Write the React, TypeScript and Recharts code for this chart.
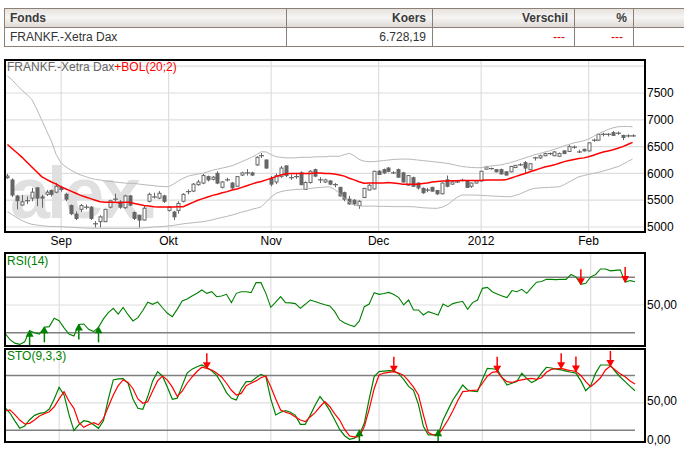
import React from "react";
import { ComposedChart, Bar, Line, XAxis, YAxis, CartesianGrid, ReferenceLine } from "recharts";

// daily candles, mid Aug 2011 .. mid Feb 2012
const opens = [
  5920, 5877, 5578, 5410, 5490, 5540, 5730, 5560, 5610, 5680,
  5650, 5740, 5610, 5400, 5240, 5330, 5370, 5370, 5060, 5100,
  5100, 5370, 5520, 5470, 5360, 5580, 5270, 5220, 5130, 5480,
  5560, 5540, 5580, 5310, 5280, 5310, 5480, 5660, 5670, 5790,
  5820, 5940, 5890, 6000, 5740, 5880, 5820, 5760, 5970, 6010,
  6010, 6160, 6330, 6250, 5900, 5840, 5940, 6140, 5920, 5940,
  6010, 5700, 5830, 6070, 5880, 5840, 5860, 5790, 5740, 5640,
  5520, 5500, 5400, 5550, 5690, 5710, 6040, 6070, 6100, 6010,
  6070, 6010, 5780, 5920, 5820, 5720, 5690, 5740, 5680, 5620,
  5880, 5800, 5840, 5870, 5850, 5760, 5820, 5860, 6080, 6090,
  6070, 6070, 6030, 6030, 6110, 6160, 6200, 6070, 6290, 6290,
  6330, 6370, 6330, 6320, 6420, 6410, 6490, 6400, 6450, 6420,
  6620, 6620, 6730, 6730, 6760, 6750, 6710, 6700, 6700,
];
const highs = [
  5990, 5908, 5600, 5600, 5570, 5730, 5740, 5600, 5690, 5700,
  5820, 5770, 5640, 5420, 5290, 5430, 5420, 5390, 5110, 5220,
  5340, 5510, 5620, 5500, 5600, 5600, 5290, 5230, 5400, 5640,
  5640, 5670, 5600, 5390, 5300, 5480, 5630, 5700, 5820, 5880,
  5990, 5960, 5950, 6040, 5860, 5920, 5840, 5950, 6030, 6080,
  6030, 6320, 6380, 6260, 5950, 6000, 6140, 6150, 5980, 6010,
  6040, 5850, 6060, 6090, 5930, 5900, 5870, 5820, 5750, 5660,
  5580, 5520, 5500, 5730, 5800, 6050, 6060, 6090, 6120, 6040,
  6090, 6030, 5970, 5940, 5830, 5740, 5730, 5750, 5690, 5830,
  5960, 5860, 5870, 5900, 5860, 5830, 5870, 6050, 6140, 6110,
  6080, 6090, 6040, 6140, 6160, 6190, 6230, 6190, 6310, 6350,
  6390, 6390, 6420, 6390, 6430, 6530, 6520, 6440, 6460, 6580,
  6650, 6740, 6760, 6750, 6790, 6780, 6720, 6730, 6730,
];
const lows = [
  5900, 5560, 5330, 5400, 5430, 5480, 5390, 5360, 5580, 5570,
  5630, 5660, 5480, 5220, 5130, 5280, 5330, 5130, 4990, 4990,
  5090, 5350, 5480, 5340, 5340, 5390, 5130, 4990, 5120, 5460,
  5530, 5520, 5450, 5290, 5130, 5250, 5460, 5610, 5650, 5770,
  5800, 5850, 5870, 5800, 5720, 5850, 5710, 5750, 5950, 5960,
  5950, 6140, 6290, 6090, 5760, 5800, 5920, 5930, 5880, 5900,
  5780, 5690, 5810, 5930, 5820, 5820, 5780, 5740, 5570, 5480,
  5420, 5400, 5340, 5540, 5680, 5700, 5970, 5990, 6020, 5990,
  5920, 5830, 5770, 5750, 5700, 5620, 5650, 5660, 5600, 5610,
  5740, 5790, 5820, 5850, 5730, 5730, 5810, 5850, 6070, 6070,
  6020, 5980, 5960, 6020, 6100, 6140, 6010, 6060, 6240, 6270,
  6320, 6340, 6320, 6310, 6360, 6400, 6460, 6380, 6410, 6410,
  6590, 6610, 6690, 6690, 6700, 6720, 6620, 6670, 6680,
];
const closes = [
  5950, 5597, 5491, 5470, 5500, 5650, 5540, 5540, 5650, 5610,
  5760, 5700, 5520, 5250, 5160, 5400, 5380, 5160, 5070, 5190,
  5330, 5490, 5530, 5370, 5580, 5410, 5160, 5130, 5350, 5610,
  5570, 5630, 5480, 5370, 5190, 5440, 5610, 5670, 5800, 5840,
  5960, 5880, 5930, 5820, 5840, 5880, 5730, 5940, 6010, 6010,
  5970, 6300, 6330, 6100, 5800, 5960, 6100, 5960, 5920, 5940,
  5790, 5830, 6040, 5950, 5880, 5880, 5800, 5790, 5580, 5520,
  5430, 5430, 5480, 5720, 5780, 6040, 5980, 6010, 6040, 6010,
  5930, 5840, 5960, 5760, 5730, 5640, 5690, 5670, 5620, 5820,
  5760, 5840, 5840, 5870, 5740, 5820, 5860, 6040, 6120, 6090,
  6030, 5990, 5970, 6130, 6150, 6160, 6100, 6180, 6290, 6330,
  6370, 6370, 6400, 6370, 6370, 6500, 6490, 6400, 6420, 6570,
  6620, 6730, 6730, 6730, 6710, 6750, 6670, 6700, 6700,
];

// Bollinger (20;2)
const bolMid = [
  6540, 6460, 6380, 6300, 6210, 6120, 6030, 5940, 5890, 5840,
  5800, 5750, 5710, 5670, 5630, 5590, 5560, 5530, 5500, 5470,
  5460, 5460, 5460, 5455, 5460, 5460, 5440, 5420, 5400, 5390,
  5380, 5375, 5375, 5375, 5375, 5378, 5380, 5420, 5460, 5500,
  5530, 5560, 5590, 5610, 5640, 5660, 5690, 5710, 5740, 5770,
  5800, 5830, 5850, 5880, 5910, 5940, 5970, 5995, 6000, 6000,
  6000, 6000, 6000, 6010, 6010, 6000, 6000, 5990, 5970, 5950,
  5910, 5880, 5845, 5815, 5820, 5820, 5820, 5820, 5830, 5820,
  5810, 5800, 5800, 5800, 5800, 5810, 5820, 5840, 5850, 5860,
  5860, 5865, 5865, 5870, 5870, 5870, 5870, 5870, 5875, 5875,
  5877, 5877, 5880, 5910, 5940, 5970, 6000, 6030, 6060, 6090,
  6120, 6140, 6160, 6190, 6220, 6240, 6260, 6280, 6290, 6310,
  6340, 6370, 6400, 6420, 6440, 6470, 6500, 6540, 6580,
];
const bolUp = [
  7820, 7740, 7640, 7550, 7470, 7380, 7200, 7000, 6800, 6600,
  6350, 6190, 6120, 6060, 6010, 5970, 5940, 5910, 5890, 5877,
  5860, 5850, 5840, 5830, 5820, 5815, 5815, 5800, 5790, 5780,
  5770, 5760, 5755, 5752, 5800, 5860, 5910, 5950, 5970, 5990,
  6000, 6030, 6060, 6080, 6100, 6120, 6144, 6180, 6220, 6260,
  6300, 6350, 6405, 6400, 6350, 6312, 6300, 6290, 6290, 6290,
  6300, 6300, 6300, 6310, 6310, 6310, 6320, 6320, 6320, 6350,
  6375, 6330, 6260, 6230, 6218, 6220, 6230, 6240, 6250, 6260,
  6265, 6268, 6268, 6260, 6250, 6240, 6230, 6220, 6210, 6200,
  6188, 6170, 6150, 6130, 6120, 6110, 6107, 6107, 6120, 6140,
  6150, 6157, 6180, 6200, 6230, 6260, 6290, 6320, 6350, 6370,
  6400, 6420, 6450, 6480, 6517, 6540, 6570, 6590, 6610, 6642,
  6690, 6740, 6780, 6820, 6850, 6871, 6875, 6875, 6871,
];
const bolLow = [
  5286, 5230, 5170, 5120, 5080, 5050, 5037, 5025, 5015, 5010,
  5008, 5006, 5000, 4995, 4990, 4985, 4980, 4978, 4976, 4976,
  4976, 4976, 4976, 4976, 4976, 4976, 4976, 4976, 4985, 4990,
  5000, 5005, 5010, 5019, 5030, 5045, 5060, 5070, 5080, 5090,
  5099, 5115, 5135, 5160, 5180, 5200, 5224, 5250, 5280, 5300,
  5330, 5350, 5379, 5470, 5560, 5629, 5660, 5680, 5690, 5700,
  5703, 5710, 5720, 5730, 5740, 5745, 5750, 5700, 5628, 5540,
  5460, 5410, 5392, 5390, 5390, 5390, 5385, 5385, 5385, 5380,
  5380, 5380, 5379, 5379, 5370, 5360, 5355, 5350, 5349, 5370,
  5410, 5480, 5550, 5597, 5597, 5597, 5595, 5590, 5585, 5580,
  5575, 5570, 5567, 5565, 5590, 5620, 5660, 5700, 5722, 5730,
  5735, 5740, 5745, 5752, 5790, 5840, 5890, 5938, 5960, 5980,
  6000, 6020, 6045, 6070, 6100, 6125, 6170, 6220, 6268,
];

const rsi = [
  29.6, 25, 22.5, 21.6, 23.5, 31.5, 30, 29, 33.9, 34.4,
  40.4, 38.7, 33.5, 29, 27.6, 36, 36.3, 32.5, 30.8, 33.9,
  40, 44.5, 47.6, 43.5, 48.3, 43, 38.5, 40.9, 46, 52,
  50.5, 52.2, 48, 44, 41.6, 47, 52.9, 54.3, 56.5, 58.5,
  60.8, 58.4, 59.6, 56, 56.5, 57.7, 51.7, 58.4, 59.6, 59.5,
  58.9, 66.1, 66.1, 58.4, 48.3, 52, 56, 51.7, 51.5, 51,
  47.6, 50.5, 53.6, 52.5, 51.2, 50.2, 49.3, 45.2, 39.2, 37,
  35.5, 34.4, 38.5, 48.8, 50.7, 58.9, 57.7, 58.3, 59.1, 57.5,
  55.3, 50, 53.6, 46.4, 46.4, 42.8, 45.2, 44, 42.8, 50.7,
  48.8, 51, 52, 52.5, 46.9, 51.7, 53.6, 62, 62.7, 59.6,
  58, 56.5, 55.3, 60.4, 59.6, 61.3, 58.4, 62.5, 66.4, 67,
  68.5, 68.5, 68.3, 68.6, 68.5, 72, 70.3, 64.9, 65.6, 70.3,
  72, 76, 76, 74.6, 75, 75.3, 66.5, 67.6, 66.8,
];

const stoK = [
  43.8, 37, 27, 17.5, 20.5, 28.5, 34, 36.6, 37.5, 42,
  55, 69.8, 60.1, 35, 14.5, 22, 27.2, 26, 22, 17.5,
  27, 55, 79.2, 80.5, 81, 75, 55, 43, 41.7, 58,
  78, 89.8, 84, 70, 54.5, 56, 72, 88, 93, 96,
  98.3, 95, 91, 85, 75, 63, 55.8, 53.7, 68, 77.1,
  77.1, 82, 86.4, 83.4, 55, 34.5, 38, 40, 38, 34,
  22.6, 22.6, 34, 47, 58, 50, 40, 28, 16, 8,
  3.4, 5, 9, 23.8, 55, 83.4, 89.8, 90.5, 91, 90.7,
  87, 80, 71, 66, 48, 20, 9, 9, 9, 28,
  41, 53.7, 63, 72.8, 66.4, 65, 64.3, 80, 94, 93.5,
  92.7, 82, 72.8, 75, 77.1, 87.7, 81, 75.8, 79, 88,
  95.4, 94.5, 93, 92, 90.5, 89, 88, 78, 65.5, 72,
  88, 98.3, 98.3, 98, 90, 83, 77.1, 71, 65.5,
];
const stoD = [
  39.6, 41, 35, 28, 23, 23.8, 28, 33.2, 36, 38.7,
  45, 55, 64.3, 52, 43, 25, 18.7, 22, 24.7, 22,
  30, 45.1, 60, 72, 79.2, 76, 68, 55, 49.4, 51.5,
  65, 78, 84.3, 79, 70, 58, 65, 75, 83, 90,
  95.4, 94, 92, 88, 83, 75, 66, 60, 62, 72,
  75, 78, 82, 84.3, 70.6, 55, 40.9, 38, 36, 32,
  28, 26, 32, 37.5, 45, 51.5, 45, 36, 28, 16,
  7.7, 6.5, 6.8, 19.6, 42, 68, 85.5, 88, 89, 89.8,
  88, 85, 78, 70, 60, 35, 12, 9, 9, 18,
  28, 40, 53, 64.3, 65, 66, 66.4, 75, 84, 89,
  89.8, 82, 77, 76, 78, 79.2, 80.5, 81.3, 80, 82,
  89, 92.7, 93.5, 94, 92.5, 91, 90, 85, 77, 70.6,
  76, 82, 92, 97, 92, 87, 83.4, 78, 74,
];

// signal arrows (day indexes)
const rsiBuyDays = [5, 8, 15, 19];
const rsiSellDays = [117, 126];
const stoBuyDays = [72, 88];
const stoSellDays = [41, 79, 100, 113, 116, 123];
const stoBuyLevel = 15;

// month ticks (day index of first trading day)
const monthDays = [11, 33, 54, 76, 97, 119];
const monthLabels = ["Sep", "Okt", "Nov", "Dec", "2012", "Feb"];

const priceTicks = [5000, 5500, 6000, 6500, 7000, 7500, 8000];

const rows = opens.map((o, i) => ({
  i,
  open: o,
  high: highs[i],
  low: lows[i],
  close: closes[i],
  range: [lows[i], highs[i]],
  mid: bolMid[i],
  up: bolUp[i],
  lo: bolLow[i],
  rsi: rsi[i],
  k: stoK[i],
  d: stoD[i],
  rsiBuy: rsiBuyDays.includes(i) ? rsi[i] : null,
  rsiSell: rsiSellDays.includes(i) ? rsi[i] : null,
  stoBuy: stoBuyDays.includes(i) ? stoBuyLevel : null,
  stoSell: stoSellDays.includes(i) ? stoD[i] : null,
}));

const FONT = "'Liberation Sans', Arial, sans-serif";
const GRID = "#dedede";
const CANDLE = "#666666";
const last = opens.length - 1;

const Candle = (props: any) => {
  const { x, y, width, height, payload } = props;
  if (payload == null) return <g />;
  const top = height >= 0 ? y : y + height;
  const h = Math.abs(height);
  const k = h / (payload.high - payload.low || 1);
  const cx = Math.round(x + width / 2) + 0.5;
  const yo = top + (payload.high - payload.open) * k;
  const yc = top + (payload.high - payload.close) * k;
  const bodyTop = Math.min(yo, yc);
  const bodyH = Math.abs(yc - yo);
  const bull = payload.close > payload.open;
  return (
    <g>
      <line x1={cx} x2={cx} y1={top} y2={top + h} stroke={CANDLE} strokeWidth={1} />
      {bodyH < 1 ? (
        <line x1={cx - 2.5} x2={cx + 2.5} y1={yo} y2={yo} stroke={CANDLE} strokeWidth={1.2} />
      ) : (
        <rect x={cx - 1.5} y={bodyTop} width={3} height={bodyH} fill={bull ? "#fff" : CANDLE} stroke={CANDLE} strokeWidth={1} />
      )}
    </g>
  );
};

const UpArrow = (props: any) => {
  const { cx, cy, index } = props;
  if (cy == null || props.value == null) return <g key={`u${index}`} />;
  return (
    <g key={`u${index}`}>
      <line x1={cx} x2={cx} y1={cy + 3} y2={cy + 15} stroke="#008000" strokeWidth={1.5} />
      <polygon points={`${cx},${cy - 1} ${cx - 4},${cy + 6} ${cx + 4},${cy + 6}`} fill="#008000" />
    </g>
  );
};

const DownArrow = (props: any) => {
  const { cx, cy, index } = props;
  if (cy == null || props.value == null) return <g key={`d${index}`} />;
  return (
    <g key={`d${index}`}>
      <line x1={cx} x2={cx} y1={cy - 15} y2={cy - 3} stroke="#ff0000" strokeWidth={1.5} />
      <polygon points={`${cx},${cy + 1} ${cx - 4},${cy - 6} ${cx + 4},${cy - 6}`} fill="#ff0000" />
    </g>
  );
};

const box = (top: number, height: number): React.CSSProperties => ({
  position: "absolute",
  left: 4,
  top,
  width: 642,
  height,
  border: "2px solid #000",
  boxSizing: "border-box",
  pointerEvents: "none",
});

const cell: React.CSSProperties = {
  border: "1px solid #8b7f76",
  padding: "0 6px",
  height: 18,
  lineHeight: "18px",
  whiteSpace: "nowrap",
};

export default function App() {
  const headBg = "linear-gradient(#e6e2de, #f6f5f4 45%, #dcd7d2)";
  return (
    <div style={{ position: "absolute", left: 0, top: 0, width: 684, height: 452, overflow: "hidden", background: "#fff", fontFamily: FONT }}>
      <table style={{ position: "absolute", left: 4, top: 8, borderCollapse: "collapse", fontSize: 12, tableLayout: "fixed", width: 720 }}>
        <colgroup>
          <col style={{ width: 282 }} />
          <col style={{ width: 146 }} />
          <col style={{ width: 142 }} />
          <col style={{ width: 59 }} />
          <col style={{ width: 91 }} />
        </colgroup>
        <tbody>
          <tr style={{ background: headBg, color: "#3a3a3a", fontWeight: "bold" }}>
            <td style={{ ...cell, textAlign: "left", paddingLeft: 5 }}>Fonds</td>
            <td style={{ ...cell, textAlign: "right" }}>Koers</td>
            <td style={{ ...cell, textAlign: "right" }}>Verschil</td>
            <td style={{ ...cell, textAlign: "right" }}>%</td>
            <td style={cell}></td>
          </tr>
          <tr style={{ color: "#333" }}>
            <td style={{ ...cell, textAlign: "left", paddingLeft: 5 }}>FRANKF.-Xetra Dax</td>
            <td style={{ ...cell, textAlign: "right" }}>6.728,19</td>
            <td style={{ ...cell, textAlign: "right", color: "#e00000", paddingRight: 9 }}>---</td>
            <td style={{ ...cell, textAlign: "right", color: "#e00000", paddingRight: 10 }}>---</td>
            <td style={cell}></td>
          </tr>
        </tbody>
      </table>

      {/* watermark */}
      <svg style={{ position: "absolute", left: 0, top: 0 }} width={684} height={452}>
        <text x={10} y={218} fontSize={72} fontWeight="bold" fill="#e0e0e0" fontFamily={FONT} letterSpacing={-3}>
          alex.
        </text>
      </svg>

      <div style={{ position: "absolute", left: 0, top: 59 }}>
        <ComposedChart width={684} height={200} data={rows} margin={{ top: 1, right: 0, bottom: 0, left: 5 }} style={{ fontFamily: FONT }}>
          <CartesianGrid stroke={GRID} strokeWidth={1.2} />
          <XAxis
            dataKey="i"
            ticks={monthDays}
            interval={0}
            tickFormatter={(v: number) => monthLabels[monthDays.indexOf(v)]}
            padding={{ left: 0, right: 10 }}
            tickLine={false}
            axisLine={false}
            tickSize={0}
            tickMargin={4}
            height={27}
            tick={{ fontSize: 12, fill: "#000" }}
          />
          <YAxis
            orientation="right"
            domain={[4907, 8116]}
            allowDataOverflow
            ticks={priceTicks}
            tickFormatter={(v: number) => (v === 8000 ? "" : String(v))}
            width={39}
            tickLine={false}
            axisLine={false}
            tickSize={0}
            tickMargin={2}
            tick={{ fontSize: 12, fill: "#000" }}
          />
          <Line dataKey="up" stroke="#b8b8b8" strokeWidth={1} dot={false} activeDot={false} isAnimationActive={false} />
          <Line dataKey="lo" stroke="#b8b8b8" strokeWidth={1} dot={false} activeDot={false} isAnimationActive={false} />
          <Bar dataKey="range" shape={Candle} isAnimationActive={false} />
          <Line dataKey="mid" stroke="#ff0000" strokeWidth={1.5} dot={false} activeDot={false} isAnimationActive={false} />
        </ComposedChart>
      </div>

      <div style={{ position: "absolute", left: 0, top: 253 }}>
        <ComposedChart width={684} height={94} data={rows} margin={{ top: 0, right: 0, bottom: 0, left: 5 }} style={{ fontFamily: FONT }}>
          <CartesianGrid stroke={GRID} strokeWidth={1.2} />
          <XAxis dataKey="i" hide ticks={monthDays} interval={0} padding={{ left: 0, right: 10 }} />
          <YAxis
            orientation="right"
            domain={[19.7, 87.5]}
            allowDataOverflow
            ticks={[50]}
            tickFormatter={() => "50,00"}
            width={39}
            tickLine={false}
            axisLine={false}
            tickSize={0}
            tickMargin={2}
            tick={{ fontSize: 12, fill: "#000" }}
          />
          <ReferenceLine segment={[{ x: 0, y: 70 }, { x: last, y: 70 }]} stroke="#808080" strokeWidth={1.5} />
          <ReferenceLine segment={[{ x: 0, y: 30 }, { x: last, y: 30 }]} stroke="#808080" strokeWidth={1.5} />
          <Line dataKey="rsi" stroke="#008000" strokeWidth={1.1} dot={false} activeDot={false} isAnimationActive={false} />
          <Line dataKey="rsiBuy" stroke="none" dot={UpArrow} activeDot={false} isAnimationActive={false} />
          <Line dataKey="rsiSell" stroke="none" dot={DownArrow} activeDot={false} isAnimationActive={false} />
        </ComposedChart>
      </div>

      <div style={{ position: "absolute", left: 0, top: 348 }}>
        <ComposedChart width={684} height={103} data={rows} margin={{ top: 0, right: 0, bottom: 9, left: 5 }} style={{ fontFamily: FONT }}>
          <CartesianGrid stroke={GRID} strokeWidth={1.2} horizontalValues={[50]} />
          <XAxis dataKey="i" hide ticks={monthDays} interval={0} padding={{ left: 0, right: 10 }} />
          <YAxis
            orientation="right"
            domain={[0, 120]}
            allowDataOverflow
            ticks={[0, 50]}
            tickFormatter={(v: number) => (v === 0 ? "0,00" : "50,00")}
            width={39}
            tickLine={false}
            axisLine={false}
            tickSize={0}
            tickMargin={2}
            tick={{ fontSize: 12, fill: "#000", dy: -2 }}
          />
          <ReferenceLine segment={[{ x: 0, y: 85 }, { x: last, y: 85 }]} stroke="#808080" strokeWidth={1.5} />
          <ReferenceLine segment={[{ x: 0, y: 15 }, { x: last, y: 15 }]} stroke="#808080" strokeWidth={1.5} />
          <Line dataKey="k" stroke="#008000" strokeWidth={1.2} dot={false} activeDot={false} isAnimationActive={false} />
          <Line dataKey="d" stroke="#ff0000" strokeWidth={1.2} dot={false} activeDot={false} isAnimationActive={false} />
          <Line dataKey="stoBuy" stroke="none" dot={UpArrow} activeDot={false} isAnimationActive={false} />
          <Line dataKey="stoSell" stroke="none" dot={DownArrow} activeDot={false} isAnimationActive={false} />
        </ComposedChart>
      </div>

      <div style={box(59, 174)} />
      <div style={box(252, 95)} />
      <div style={box(348, 95)} />

      <div style={{ position: "absolute", left: 7, top: 60, fontSize: 12, lineHeight: "14px", color: "#666", whiteSpace: "nowrap" }}>
        FRANKF.-Xetra Dax<span style={{ color: "#ff0000" }}>+BOL(20;2)</span>
      </div>
      <div style={{ position: "absolute", left: 7, top: 254, fontSize: 12, lineHeight: "14px", color: "#008000" }}>RSI(14)</div>
      <div style={{ position: "absolute", left: 7, top: 349, fontSize: 12, lineHeight: "14px", color: "#008000" }}>STO(9,3,3)</div>
    </div>
  );
}
